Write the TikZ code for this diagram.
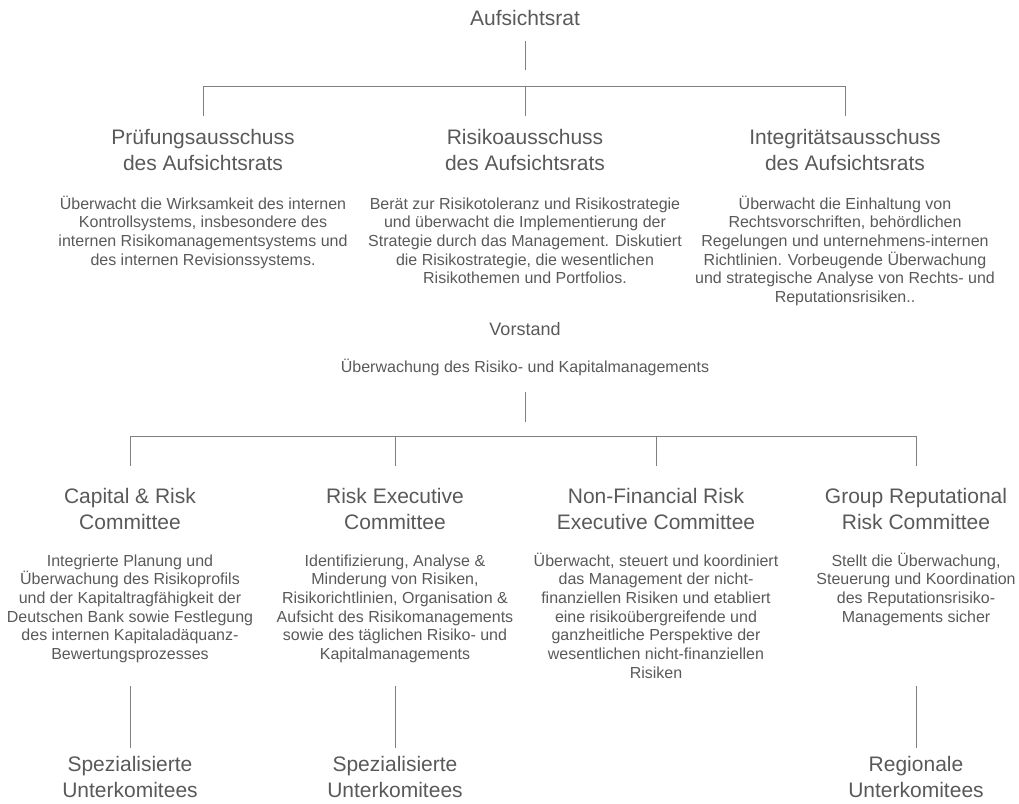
\documentclass[tikz,border=0pt]{standalone}
\usepackage{fontspec}
\setmainfont{Liberation Sans}
\usetikzlibrary{positioning}
\definecolor{txtgray}{RGB}{89,89,89}
\definecolor{linegray}{RGB}{128,128,128}

\begin{document}
\begin{tikzpicture}[
    x=1pt, y=1pt,
    head/.style={align=center, inner sep=0pt, anchor=base, text=txtgray, font=\fontsize{21}{26}\selectfont},
    desc/.style={align=center, inner sep=0pt, anchor=base, text=txtgray, font=\fontsize{16}{18.7}\selectfont},
    tree/.style={draw=linegray, line width=0.9pt}
  ]
  \useasboundingbox (0,0) rectangle (1019,-803);

  % supervisory board (base = last line)
  \node[head] (aufs) at (525,-25.5) {Aufsichtsrat};
  \node[head] (pruef) at (203,-170) {Prüfungsausschuss\\des Aufsichtsrats};
  \node[head] (risk) at (525,-170) {Risikoausschuss\\des Aufsichtsrats};
  \node[head] (integ) at (845,-170) {Integritätsausschuss\\des Aufsichtsrats};
  \node[desc] (pruefd) at (203,-265.1) {Überwacht die Wirksamkeit des internen\\Kontrollsystems, insbesondere des\\internen Risikomanagementsystems und\\des internen Revisionssystems.};
  \node[desc] (riskd) at (525,-283.8) {Berät zur Risikotoleranz und Risikostrategie\\und überwacht die Implementierung der\\Strategie durch das Management. Diskutiert\\die Risikostrategie, die wesentlichen\\Risikothemen und Portfolios.};
  \node[desc] (integd) at (845,-302.5) {Überwacht die Einhaltung von\\Rechtsvorschriften, behördlichen\\Regelungen und unternehmens-internen\\Richtlinien. Vorbeugende Überwachung\\und strategische Analyse von Rechts- und\\Reputationsrisiken..};

  \coordinate (bus1) at (525,-86);
  \draw[tree] (bus1) ++(0,45) -- ++(0,-29);
  \draw[tree] (bus1 -| pruef) -- (bus1 -| integ);
  \foreach \n in {pruef,risk,integ}
    \draw[tree] (bus1 -| \n) -- ++(0,-30);

  % management board
  \node[head, font=\fontsize{18}{22}\selectfont] (vorst) at (525,-335) {Vorstand};
  \node[desc] (vorstd) at (525,-372) {Überwachung des Risiko- und Kapitalmanagements};

  \node[head] (crc) at (130,-529) {Capital \& Risk\\Committee};
  \node[head] (rec) at (395,-529) {Risk Executive\\Committee};
  \node[head] (nfrec) at (656,-529) {Non-Financial Risk\\Executive Committee};
  \node[head] (grrc) at (916,-529) {Group Reputational\\Risk Committee};
  \node[desc] (crcd) at (130,-659.5) {Integrierte Planung und\\Überwachung des Risikoprofils\\und der Kapitaltragfähigkeit der\\Deutschen Bank sowie Festlegung\\des internen Kapitaladäquanz-\\Bewertungsprozesses};
  \node[desc] (recd) at (395,-659.5) {Identifizierung, Analyse \&\\Minderung von Risiken,\\Risikorichtlinien, Organisation \&\\Aufsicht des Risikomanagements\\sowie des täglichen Risiko- und\\Kapitalmanagements};
  \node[desc] (nfrecd) at (656,-678.2) {Überwacht, steuert und koordiniert\\das Management der nicht-\\finanziellen Risiken und etabliert\\eine risikoübergreifende und\\ganzheitliche Perspektive der\\wesentlichen nicht-finanziellen\\Risiken};
  \node[desc] (grrcd) at (916,-622.1) {Stellt die Überwachung,\\Steuerung und Koordination\\des Reputationsrisiko-\\Managements sicher};

  \coordinate (bus2) at (525,-436);
  \draw[tree] (bus2) ++(0,44) -- ++(0,-30);
  \draw[tree] (bus2 -| crc) -- (bus2 -| grrc);
  \foreach \n in {crc,rec,nfrec,grrc}
    \draw[tree] (bus2 -| \n) -- ++(0,-30);

  % sub-committees
  \node[head] (sub1) at (130,-797) {Spezialisierte\\Unterkomitees};
  \node[head] (sub2) at (395,-797) {Spezialisierte\\Unterkomitees};
  \node[head] (sub3) at (916,-797) {Regionale\\Unterkomitees};
  \coordinate (lvl3) at (0,-686);
  \foreach \n in {sub1,sub2,sub3}
    \draw[tree] (\n |- lvl3) -- ++(0,-62);
\end{tikzpicture}
\end{document}
